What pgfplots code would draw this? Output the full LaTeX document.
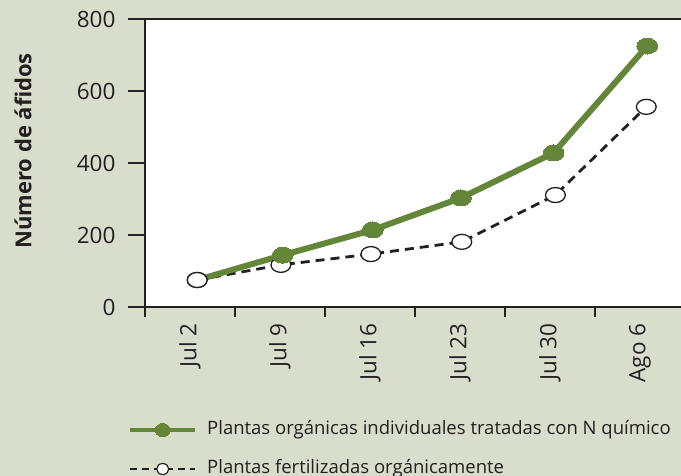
\documentclass[border=0pt]{standalone}
\usepackage{pgfplots}
\pgfplotsset{compat=1.18}
\usepackage{fontspec}
\setmainfont{Open Sans}
\definecolor{bg}{RGB}{217,221,203}
\definecolor{grn}{RGB}{99,134,57}
\definecolor{txt}{RGB}{35,31,32}
\begin{document}
\begin{tikzpicture}[x=1pt,y=1pt]
\fill[bg] (-145,-169) rectangle (536,307);
\useasboundingbox (-145,-169) rectangle (536,307);
\begin{axis}[
  at={(0,0)}, anchor=south west,
  scale only axis, width=545pt, height=288pt,
  xmin=0, xmax=6.0556, ymin=0, ymax=800,
  axis background/.style={fill=white},
  axis line style={draw=txt, line width=1.2pt},
  tick align=outside,
  xtick pos=bottom, ytick pos=left,
  major tick length=17pt,
  minor tick length=10pt,
  ytick={0,200,400,600,800},
  xtick={0.5,1.5,2.5,3.5,4.5,5.5},
  xticklabels={Jul 2,Jul 9,Jul 16,Jul 23,Jul 30,Ago 6},
  minor xtick={0,1,2,3,4,5},
  major x tick style={draw=none},
  tick style={draw=txt, line width=1.2pt},
  xticklabel shift=-4pt,
  yticklabel shift=9pt,
  xticklabel style={rotate=90, anchor=east, font=\fontsize{22.5}{22.5}\selectfont, text=txt},
  yticklabel style={font=\fontsize{22.5}{22.5}\selectfont, text=txt},
  /pgf/number format/assume math mode=true,
  ylabel={Número de áfidos},
  ylabel style={font=\bfseries\fontsize{22}{22}\selectfont, text=txt, at={(axis description cs:-0.2239,0.5417)}, anchor=center},
  legend image code/.code={\draw[mark repeat=2,mark phase=2,#1] plot coordinates {(0pt,0pt) (32.5pt,0pt) (65pt,0pt)};},
  legend style={at={(axis description cs:-0.0367,-0.39)}, anchor=north west, draw=none, fill=none,
    font=\fontsize{18.5}{18.5}\selectfont, text=txt, row sep=22pt,
    nodes={inner sep=0pt, text height=13pt, text depth=4pt},
    /tikz/every odd column/.append style={column sep=10pt}},
  legend cell align=left,
]
\addlegendimage{grn, line width=4pt, mark=*, mark size=6.5pt, mark options={fill=grn, draw=grn, line width=0pt, xscale=1.15}}
\addlegendentry{Plantas orgánicas individuales tratadas con N químico}
\addlegendimage{txt, line width=2.8pt, dash pattern=on 7pt off 5pt, mark=*, mark size=5.5pt, mark options={solid, fill=white, draw=txt, line width=1.2pt, xscale=1.1}}
\addlegendentry{Plantas fertilizadas orgánicamente}
% organic (dashed)
\addplot[txt, line width=2.8pt, dash pattern=on 9pt off 6pt, mark=*, mark size=7.5pt,
  mark options={solid, fill=white, draw=txt, line width=1.3pt, xscale=1.32}, forget plot]
  coordinates {(0.58,75) (1.51,117) (2.51,147) (3.52,181) (4.56,311) (5.57,556)};
% chemical N (green)
\addplot[grn, line width=6pt, mark=*, mark indices={2,3,4,5,6}, mark size=8pt,
  mark options={fill=grn, draw=grn, line width=0pt, xscale=1.3}, forget plot]
  coordinates {(0.58,75) (1.53,144) (2.53,214) (3.51,303) (4.54,428) (5.58,725)};
% shared start point drawn on top
\addplot[only marks, mark=*, mark size=7.5pt,
  mark options={solid, fill=white, draw=txt, line width=1.3pt, xscale=1.32}, forget plot]
  coordinates {(0.58,75)};
\end{axis}
\end{tikzpicture}
\end{document}
